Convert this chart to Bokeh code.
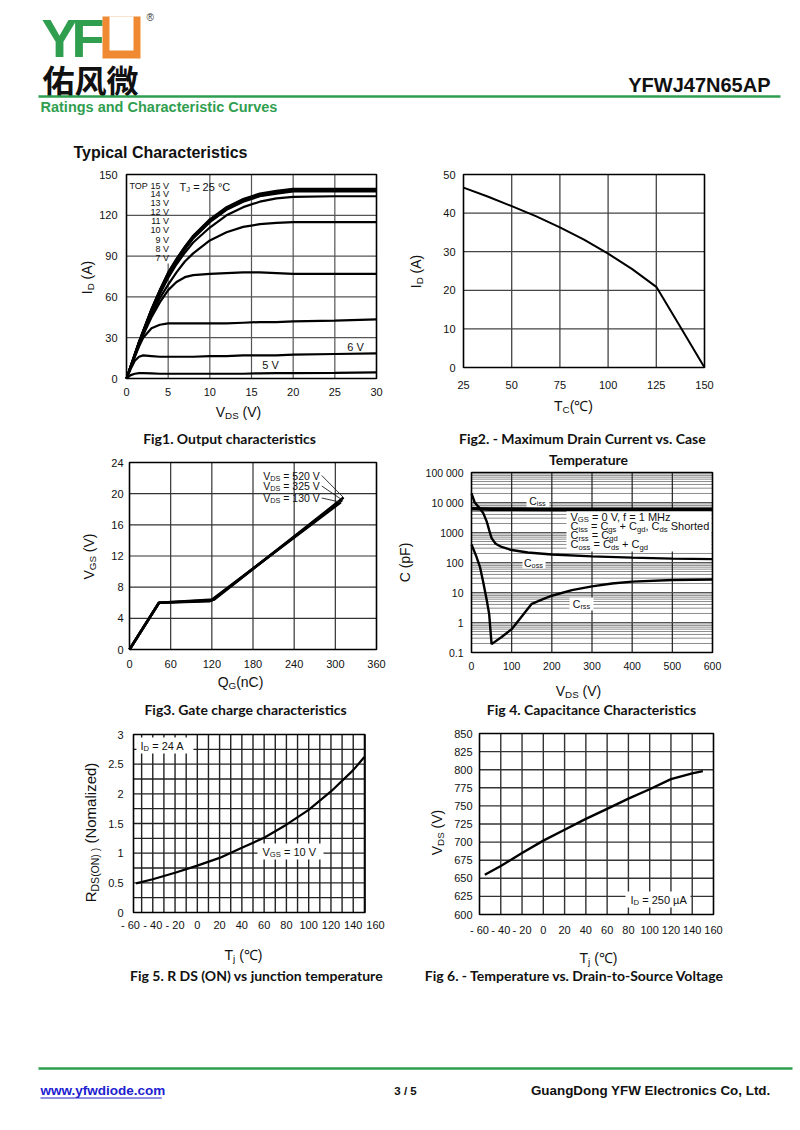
import math
from bokeh.plotting import figure
from bokeh.models import Range1d, LinearScale
from bokeh.embed import file_html
from bokeh.resources import INLINE
from bokeh.core.properties import value

# ---------------- DATA ----------------
# Fig1 output characteristics (I_D vs V_DS for several V_GS)
vds_out = [0, 0.5, 1, 1.5, 2, 3, 4, 5, 6, 7, 8, 10, 12, 14, 16, 18, 20, 25, 30]
id_15v = [0, 9, 18, 27, 35, 51, 65, 78, 88, 97, 105, 117, 126, 132, 136, 138, 139.5, 139.5, 139.5]
id_14v = [0, 9, 18, 27, 35, 51, 65, 77.5, 87.5, 96.5, 104.5, 116.5, 125.5, 131.5, 135.5, 137.5, 139, 139, 139]
id_13v = [0, 9, 18, 26.5, 34.5, 50.5, 64.5, 77, 87, 96, 104, 116, 125, 131, 135, 137, 138.5, 138.5, 138.5]
id_12v = [0, 9, 17.5, 26.5, 34.5, 50, 64, 76.5, 86.5, 95.5, 103.5, 115.5, 124.5, 130.5, 134.5, 136.5, 138, 138, 138]
id_11v = [0, 9, 17.5, 26, 34, 50, 63.5, 76, 86, 95, 103, 115, 124, 130, 134, 136, 137.5, 137.5, 137.5]
id_10v = [0, 8.5, 17, 25.5, 33.5, 49, 62, 74, 84, 92.5, 100, 111, 120, 126, 130, 132.5, 133.5, 134, 134]
id_9v = [0, 8.5, 17, 25, 33, 47, 59, 69, 78, 86, 92, 101.5, 107.5, 111.5, 113.5, 114.5, 115, 115, 115]
id_8v = [0, 8.5, 16.5, 24.5, 32, 45, 56, 65, 71, 74.5, 76, 77, 77.5, 78, 78, 77.5, 77, 77, 77]
id_7v = [0, 8, 16, 23.5, 30, 37, 39.5, 40.5, 40.5, 40.5, 40.5, 40.5, 40.5, 41, 41.5, 41.5, 42, 42.5, 43.5]
id_6v = [0, 7, 13, 16, 17, 16.5, 16, 16, 16, 16, 16, 16.5, 16.5, 17, 17, 17, 17.5, 18, 18.5]
id_5v = [0, 2.5, 3.5, 4, 4, 3.8, 3.5, 3.5, 3.5, 3.5, 3.5, 3.5, 3.5, 3.5, 3.8, 4, 4, 4.2, 4.5]
vgs_legend = ["15 V", "14 V", "13 V", "12 V", "11 V", "10 V", "9 V", "8 V", "7 V"]
f1_xticks = [0, 5, 10, 15, 20, 25, 30]
f1_yticks = [0, 30, 60, 90, 120, 150]

# Fig2 max drain current vs case temperature
tc = [25, 37.5, 50, 62.5, 75, 87.5, 100, 112.5, 125, 137.5, 150]
id_max = [46.6, 44.3, 41.8, 39.2, 36.3, 33.1, 29.5, 25.5, 20.9, 10.5, 0]
f2_xticks = [25, 50, 75, 100, 125, 150]
f2_yticks = [0, 10, 20, 30, 40, 50]

# Fig3 gate charge
qg_130 = [0, 43, 117, 308]
vgs_130 = [0, 6.0, 6.2, 18.9]
qg_325 = [0, 43, 120, 310]
vgs_325 = [0, 6.0, 6.3, 19.2]
qg_520 = [0, 43, 123, 312]
vgs_520 = [0, 6.0, 6.4, 19.5]
f3_xticks = [0, 60, 120, 180, 240, 300, 360]
f3_yticks = [0, 4, 8, 12, 16, 20, 24]

# Fig4 capacitance (pF)
v_ciss = [0, 50, 100, 200, 300, 400, 500, 600]
ciss = [6200, 6000, 6000, 5900, 5900, 5900, 5900, 5900]
v_coss = [0, 8, 20, 29, 38, 44, 50, 60, 75, 100, 140, 200, 300, 400, 500, 600]
coss = [20000, 10000, 6500, 4500, 2300, 1200, 650, 420, 330, 260, 215, 185, 160, 145, 135, 130]
v_crss = [0, 12, 21, 29, 38, 44, 50, 75, 100, 150, 175, 200, 250, 300, 350, 400, 500, 600]
crss = [400, 160, 72, 23, 5.5, 1.9, 0.19, 0.33, 0.6, 4.2, 5.8, 7.8, 12, 16, 20, 23, 26, 27]
f4_xticks = [0, 100, 200, 300, 400, 500, 600]
f4_yticks = [0.1, 1, 10, 100, 1000, 10000, 100000]
f4_ylabels = ["0.1", "1", "10", "100", "1000", "10 000", "100 000"]

# Fig5 RDS(on) vs Tj
tj5 = [-55, -40, -20, 0, 20, 40, 60, 80, 100, 120, 140, 150]
rds = [0.49, 0.56, 0.67, 0.79, 0.92, 1.09, 1.26, 1.48, 1.73, 2.04, 2.4, 2.62]
f5_yticks = [0, 0.5, 1, 1.5, 2, 2.5, 3]
f5_ylabels = ["0", "0.5", "1", "1.5", "2", "2.5", "3"]

# Fig6 BVdss vs Tj
tj6 = [-55, -40, -20, 0, 20, 40, 60, 80, 100, 120, 140, 150]
bvdss = [655, 667, 685, 702, 717, 732, 746, 760, 773, 787, 795, 798]
f6_yticks = [600, 625, 650, 675, 700, 725, 750, 775, 800, 825, 850]

tj_xticks = [-60, -40, -20, 0, 20, 40, 60, 80, 100, 120, 140, 160]
tj_xlabels = ["- 60", "- 40", "- 20", "0", "20", "40", "60", "80", "100", "120", "140", "160"]

# ---------------- STYLE ----------------
TXT = "#111111"
SANS = "Liberation Sans"
CAPF = "Lato"
GREEN = "#2f9e4f"
ORANGE = "#f08a32"
PW, PH = 800, 1130

AW = {' ': 0.278, '(': 0.333, ')': 0.333, '+': 0.584, ',': 0.278, '-': 0.333, '.': 0.278,
      '/': 0.278, '=': 0.584, '°': 0.4, '℃': 1.0, 'µ': 0.577,
      'A': 0.667, 'B': 0.667, 'C': 0.722, 'D': 0.722, 'E': 0.667, 'F': 0.611, 'G': 0.778,
      'H': 0.722, 'I': 0.278, 'J': 0.5, 'K': 0.667, 'L': 0.556, 'M': 0.833, 'N': 0.722,
      'O': 0.778, 'P': 0.667, 'Q': 0.778, 'R': 0.722, 'S': 0.667, 'T': 0.611, 'U': 0.722,
      'V': 0.667, 'W': 0.944, 'X': 0.667, 'Y': 0.667, 'Z': 0.611,
      'a': 0.556, 'b': 0.556, 'c': 0.5, 'd': 0.556, 'e': 0.556, 'f': 0.278, 'g': 0.556,
      'h': 0.556, 'i': 0.222, 'j': 0.222, 'k': 0.5, 'l': 0.222, 'm': 0.833, 'n': 0.556,
      'o': 0.556, 'p': 0.556, 'q': 0.556, 'r': 0.333, 's': 0.5, 't': 0.278, 'u': 0.556,
      'v': 0.5, 'w': 0.722, 'x': 0.5, 'y': 0.5, 'z': 0.5}


def tw(s, size):
    return sum(AW.get(c, 0.556) for c in s) * size


def lg(vals):
    return [math.log10(v) for v in vals]


# chart frames, in page pixels (Fig4 is plotted on decades: log10 of the values)
F1 = dict(l=126, r=376, t=174, b=378, x=(0, 30), y=(0, 150))
F2 = dict(l=463, r=704, t=174, b=367, x=(25, 150), y=(0, 50))
F3 = dict(l=129, r=376, t=462, b=649, x=(0, 360), y=(0, 24))
F4 = dict(l=471, r=712, t=472, b=652, x=(0, 600), y=(-1, 5))
F5 = dict(l=133, r=364, t=734, b=912, x=(-60, 160), xt=(130, 375), fx=(-57.3, 150.6), y=(0, 3))
F6 = dict(l=479, r=713, t=733, b=914, x=(-60, 160), y=(600, 850))

# ---------------- PAGE FIGURE ----------------
p = figure(width=PW, height=PH, x_range=Range1d(0, PW), y_range=Range1d(PH, 0),
           output_backend="svg", toolbar_location=None,
           x_axis_location=None, y_axis_location=None, min_border=0)
p.outline_line_color = None
p.grid.visible = False
p.background_fill_color = "white"
p.border_fill_color = "white"


def sub(xsrc, ysrc, xtgt, ytgt):
    return p.subplot(x_source=Range1d(*xsrc), y_source=Range1d(*ysrc),
                     x_target=Range1d(*xtgt), y_target=Range1d(*ytgt),
                     x_scale=LinearScale(), y_scale=LinearScale())


def chart(fr):
    xt = fr.get('xt', (fr['l'], fr['r']))
    yt = (fr['b'], fr['t'])
    xy = sub(fr['x'], fr['y'], xt, yt)
    xs = sub(fr['x'], (0, PH), xt, (0, PH))
    ys = sub((0, PW), fr['y'], (0, PW), yt)
    return xy, xs, ys


def to_data(fr, px, py):
    x0, x1 = fr['x']
    l, r = fr.get('xt', (fr['l'], fr['r']))
    dx = x0 + (px - l) / (r - l) * (x1 - x0)
    y0, y1 = fr['y']
    dy = y0 + (fr['b'] - py) / (fr['b'] - fr['t']) * (y1 - y0)
    return dx, dy


def grid(xy, fr, gx, gy, col, w, hcol=None):
    x0, x1 = fr.get('fx', fr['x'])
    y0, y1 = fr['y']
    if gx:
        xy.segment(x0=gx, y0=[y0] * len(gx), x1=gx, y1=[y1] * len(gx), line_color=col, line_width=w)
    if gy:
        xy.segment(x0=[x0] * len(gy), y0=gy, x1=[x1] * len(gy), y1=gy,
                   line_color=hcol or col, line_width=w)


def outline(xy, fr):
    x0, x1 = fr.get('fx', fr['x'])
    y0, y1 = fr['y']
    xy.quad(left=[x0], right=[x1], bottom=[y0], top=[y1], fill_color=None,
            line_color="black", line_width=1.6)


def ticks(xs, ys, xt, xl, xly, yt, yl, ylr, size=11):
    xs.text(x=xt, y=[xly] * len(xt), text=xl, text_align="center", text_baseline="middle",
            text_font=value(SANS), text_font_size=value(f"{size}px"), text_color=TXT)
    ys.text(x=[ylr] * len(yt), y=yt, text=yl, text_align="right", text_baseline="middle",
            text_font=value(SANS), text_font_size=value(f"{size}px"), text_color=TXT)


def put(x, y, t, size, bold=False, font=SANS, color=TXT, align='left', angle=0.0):
    p.text(x=[x], y=[y], text=[t], angle=angle, text_font=value(font),
           text_font_size=value(f"{size}px"), text_font_style='bold' if bold else 'normal',
           text_color=color, text_align=align, text_baseline='middle')


def rich(px, py, parts, size=11.0, angle=0.0, align='left', font=SANS, color=TXT):
    ss = round(size * 0.7, 1)
    ws = [tw(t, ss if sb else size) for t, sb in parts]
    total = sum(ws)
    s = {'left': 0.0, 'center': -total / 2, 'right': -total}[align]
    for (t, sb), w in zip(parts, ws):
        fs = ss if sb else size
        lead = len(t) - len(t.lstrip(' '))
        core = t.strip(' ')
        off = s + tw(' ' * lead, fs)
        sh = 0.28 * size if sb else 0.0
        if core:
            if angle == 0:
                put(px + off, py + sh, core, fs, font=font, color=color)
            else:
                put(px + sh, py - off, core, fs, font=font, color=color, angle=angle)
        s += w
    return total


def wbox(x0, y0, x1, y1):
    p.quad(left=[x0], right=[x1], top=[y0], bottom=[y1], fill_color="white", line_color=None)


def caption(x, y, t):
    put(x, y, t, 14, bold=True, font=CAPF, align='center')


# ---------------- HEADER ----------------
put(41, 37, "Y", 54, bold=True, color=GREEN)
put(71, 37, "F", 54, bold=True, color=GREEN)
p.quad(left=[102], right=[140], top=[16], bottom=[58], fill_color=ORANGE, line_color=None)
p.quad(left=[109], right=[133], top=[16], bottom=[50], fill_color="white", line_color=None)
put(146, 17, "®", 10, color="#333333")
put(42, 78, "佑风微", 32, bold=True, font="Noto Sans CJK SC", color="#111111")
put(770, 84.5, "YFWJ47N65AP", 20, bold=True, align='right')
p.line(x=[38, 780], y=[96, 96], line_color=GREEN, line_width=2.5)
put(40, 106, "Ratings and Characteristic Curves", 14.5, bold=True, color=GREEN)
put(73, 152, "Typical Characteristics", 16, bold=True)

# ---------------- FIG 1 ----------------
xy1, xs1, ys1 = chart(F1)
grid(xy1, F1, [10, 15, 20, 25], [30, 60, 90, 120], "#555555", 1.2)
_, g5top = to_data(F1, 0, 263)
xy1.segment(x0=[f1_xticks[1]], y0=[f1_yticks[0]], x1=[f1_xticks[1]], y1=[g5top],
            line_color="#555555", line_width=1.2)
for ser in [id_5v, id_6v, id_7v, id_8v, id_9v, id_10v, id_11v, id_12v, id_13v, id_14v, id_15v]:
    xy1.line(vds_out, ser, line_color="black", line_width=2.2)
outline(xy1, F1)
ticks(xs1, ys1, f1_xticks, [str(v) for v in f1_xticks], 391, f1_yticks, [str(v) for v in f1_yticks], 117)
legend_y = [185.3, 193.5, 202.3, 211.5, 220.5, 229.8, 239.0, 248.0, 257.0]
put(129, legend_y[0], "TOP", 9)
for lab, yy in zip(vgs_legend, legend_y):
    put(168.5, yy, lab, 9, align='right')
rich(179, 186, [("T", 0), ("J", 1), (" = 25 °C", 0)], size=11)
put(355, 346, "6 V", 11, align='center')
put(270, 364, "5 V", 11, align='center')
rich(86, 277, [("I", 0), ("D", 1), (" (A)", 0)], size=14, angle=math.pi / 2, align='center')
rich(238, 411, [("V", 0), ("DS", 1), (" (V)", 0)], size=14, align='center')
caption(229, 438, "Fig1. Output characteristics")

# ---------------- FIG 2 ----------------
xy2, xs2, ys2 = chart(F2)
grid(xy2, F2, [50, 75, 100, 125], [10, 20, 30, 40], "#444444", 1.3)
xy2.line(tc, id_max, line_color="black", line_width=2.0)
outline(xy2, F2)
ticks(xs2, ys2, f2_xticks, [str(v) for v in f2_xticks], 384, f2_yticks, [str(v) for v in f2_yticks], 455)
rich(415, 271, [("I", 0), ("D", 1), (" (A)", 0)], size=14, angle=math.pi / 2, align='center')
rich(573, 405, [("T", 0), ("C", 1), ("(℃)", 0)], size=14, align='center')
caption(582, 438, "Fig2. - Maximum Drain Current vs. Case")
caption(588, 459, "Temperature")

# ---------------- FIG 3 ----------------
xy3, xs3, ys3 = chart(F3)
grid(xy3, F3, f3_xticks[1:-1], f3_yticks[1:-1], "#333333", 1.2)
for qs, vs in [(qg_130, vgs_130), (qg_325, vgs_325), (qg_520, vgs_520)]:
    xy3.line(qs, vs, line_color="black", line_width=2.6)
outline(xy3, F3)
ticks(xs3, ys3, f3_xticks, [str(v) for v in f3_xticks], 663, f3_yticks, [str(v) for v in f3_yticks], 123)
for yy, lab, qs, vs in [(475, " = 520 V", qg_520, vgs_520), (485.5, " = 325 V", qg_325, vgs_325),
                        (497.5, " = 130 V", qg_130, vgs_130)]:
    wtot = rich(262.7, yy, [("V", 0), ("DS", 1), (lab, 0)], size=10.5)
    sx, sy = to_data(F3, 262.7 + wtot + 2, yy)
    xy3.line([sx, qs[-1]], [sy, vs[-1]], line_color="#222222", line_width=0.9)
rich(88, 556, [("V", 0), ("GS", 1), (" (V)", 0)], size=14, angle=math.pi / 2, align='center')
rich(240, 681, [("Q", 0), ("G", 1), ("(nC)", 0)], size=14, align='center')
caption(245, 709, "Fig3. Gate charge characteristics")

# ---------------- FIG 4 ----------------
xy4, xs4, ys4 = chart(F4)
minor4 = [m * 10 ** e for e in range(-1, 5) for m in range(2, 10)]
grid(xy4, F4, [], lg(minor4), "#8c8c8c", 1.0)
grid(xy4, F4, f4_xticks[1:-1], lg(f4_yticks[1:-1]), "#222222", 1.2, hcol="#555555")
wbox(566, 510, 711, 551)
wbox(526, 494, 549, 507)
wbox(522, 556, 545, 568)
wbox(569, 597, 593, 610)
xy4.line(v_ciss, lg(ciss), line_color="black", line_width=3.6)
xy4.line(v_coss, lg(coss), line_color="black", line_width=2.4)
xy4.line(v_crss, lg(crss), line_color="black", line_width=2.4)
outline(xy4, F4)
ticks(xs4, ys4, f4_xticks, [str(v) for v in f4_xticks], 665, lg(f4_yticks), f4_ylabels, 463, size=10.5)
rich(537, 500.5, [("C", 0), ("iss", 1)], size=10.5, align='center')
rich(533, 562, [("C", 0), ("oss", 1)], size=10.5, align='center')
rich(581, 603.5, [("C", 0), ("rss", 1)], size=10.5, align='center')
rich(570, 516, [("V", 0), ("GS", 1), (" = 0 V, f = 1 MHz", 0)], size=11)
rich(570, 525.5, [("C", 0), ("iss", 1), (" = C", 0), ("gs", 1), (" + C", 0), ("gd", 1),
                  (", C", 0), ("ds", 1), (" Shorted", 0)], size=11)
rich(570, 534.5, [("C", 0), ("rss", 1), (" = C", 0), ("gd", 1)], size=11)
rich(570, 543.5, [("C", 0), ("oss", 1), (" = C", 0), ("ds", 1), (" + C", 0), ("gd", 1)], size=11)
rich(404, 562, [("C (pF)", 0)], size=14, angle=math.pi / 2, align='center')
rich(578, 690, [("V", 0), ("DS", 1), (" (V)", 0)], size=14, align='center')
caption(591, 709, "Fig 4. Capacitance Characteristics")

# ---------------- FIG 5 ----------------
xy5, xs5, ys5 = chart(F5)
grid(xy5, F5, list(range(-50, 151, 10)), [0.25 * i for i in range(1, 12)], "#222222", 1.4)
wbox(136, 737, 193, 753)
wbox(257, 843, 323, 859)
xy5.line(tj5, rds, line_color="black", line_width=2.2)
outline(xy5, F5)
ticks(xs5, ys5, tj_xticks, tj_xlabels, 924, f5_yticks, f5_ylabels, 123)
rich(140, 745, [("I", 0), ("D", 1), (" = 24 A", 0)], size=11)
rich(262, 851, [("V", 0), ("GS", 1), (" = 10 V", 0)], size=11)
rich(90, 832, [("R", 0), ("DS(ON) )", 1), (" (Nomalized)", 0)], size=15,
     angle=math.pi / 2, align='center')
rich(243, 954, [("T", 0), ("j", 1), (" (℃)", 0)], size=14, align='center')
caption(256, 975, "Fig 5. R DS (ON) vs junction temperature")

# ---------------- FIG 6 ----------------
xy6, xs6, ys6 = chart(F6)
grid(xy6, F6, tj_xticks[1:-1], f6_yticks[1:-1], "#333333", 1.4)
wbox(625, 891, 690, 907)
xy6.line(tj6, bvdss, line_color="black", line_width=2.4)
outline(xy6, F6)
ticks(xs6, ys6, tj_xticks, tj_xlabels, 929, f6_yticks, [str(v) for v in f6_yticks], 472)
rich(630, 899, [("I", 0), ("D", 1), (" = 250 µA", 0)], size=11)
rich(436, 832, [("V", 0), ("DS", 1), (" (V)", 0)], size=14, angle=math.pi / 2, align='center')
rich(598, 957, [("T", 0), ("j", 1), (" (℃)", 0)], size=14, align='center')
caption(574, 975, "Fig 6. - Temperature vs. Drain-to-Source Voltage")

# ---------------- FOOTER ----------------
p.line(x=[38, 792], y=[1068, 1068], line_color=GREEN, line_width=2.5)
put(40, 1090, "www.yfwdiode.com", 13.5, bold=True, color="#2020d0")
p.line(x=[40, 40 + tw("www.yfwdiode.com", 13.5) * 1.05], y=[1097.5, 1097.5], line_color="#2020d0", line_width=1)
put(405, 1090, "3 / 5", 11.5, bold=True, align='center')
put(770, 1090, "GuangDong YFW Electronics Co, Ltd.", 13.4, bold=True, align='right')

open("out.html", "w").write(file_html(p, INLINE))
